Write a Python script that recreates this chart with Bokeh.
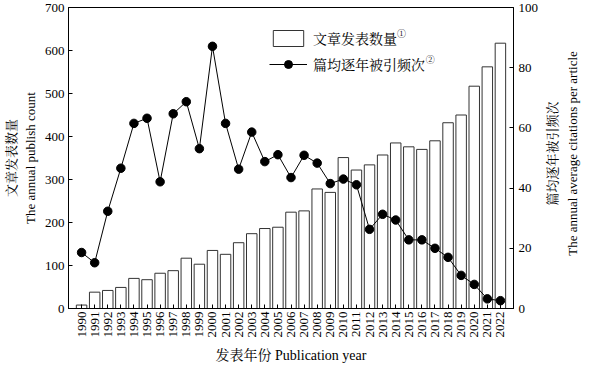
from bokeh.plotting import figure
from bokeh.models import Range1d, LinearAxis, FixedTicker, Legend, LegendItem, Label
from bokeh.layouts import row
from bokeh.embed import file_html
from bokeh.resources import INLINE
import math

years = list(range(1990, 2023))
publish_count = [8, 38, 42, 49, 70, 67, 82, 88, 117, 103, 135, 126, 153, 174, 186, 189,
                 224, 227, 278, 270, 351, 322, 334, 357, 385, 376, 370, 390, 432, 450,
                 517, 562, 617]
citations = [18.6, 15.2, 32.3, 46.6, 61.5, 63.2, 42.1, 64.7, 68.7, 53.1, 87.1, 61.5,
             46.3, 58.6, 48.8, 51.1, 43.5, 50.9, 48.3, 41.5, 43.0, 41.1, 26.3, 31.3,
             29.4, 22.8, 22.8, 20.0, 17.0, 11.0, 8.0, 3.2, 2.6]
left_ticks = [0, 100, 200, 300, 400, 500, 600, 700]
right_ticks = [0, 20, 40, 60, 80, 100]
right_title = "篇均逐年被引频次\nThe annual average citations per article"

SERIF = "Liberation Serif, Noto Serif CJK SC, Noto Sans CJK SC"

p = figure(output_backend="svg", toolbar_location=None,
           frame_width=445, frame_height=301,
           min_border_left=61, min_border_right=28, min_border_top=7, min_border_bottom=48,
           x_range=Range1d(1989, 2023), y_range=Range1d(0, 700))
p.extra_y_ranges = {"cit": Range1d(0, 100)}
p.outline_line_color = "black"
p.outline_line_width = 1
p.xgrid.visible = False
p.ygrid.visible = False
p.background_fill_color = "white"
p.border_fill_color = "white"

bars = p.vbar(x=years, top=publish_count, width=0.8, fill_color="white",
              line_color="#333333", line_width=1)
ln = p.line(x=years, y=citations, y_range_name="cit", line_color="black", line_width=1)
pts = p.scatter(x=years, y=citations, y_range_name="cit", size=8.5, marker="circle",
                fill_color="black", line_color="black")

right = LinearAxis(y_range_name="cit")
p.add_layout(right, "right")


def style_axis(ax):
    ax.major_tick_in = 4
    ax.major_tick_out = 0
    ax.minor_tick_line_color = None
    ax.axis_line_color = "black"
    ax.major_tick_line_color = "black"
    ax.major_label_text_font = SERIF
    ax.major_label_text_font_size = "13px"
    ax.major_label_text_color = "black"
    ax.axis_label_text_font = SERIF
    ax.axis_label_text_font_size = "13px"
    ax.axis_label_text_font_style = "normal"
    ax.axis_label_text_color = "black"
    ax.axis_label_text_line_height = 1.3


for ax in [p.xaxis[0], p.yaxis[0], right]:
    style_axis(ax)

p.xaxis[0].ticker = FixedTicker(ticks=years)
p.xaxis[0].major_label_orientation = math.pi / 2
p.xaxis[0].major_label_standoff = 3
p.xaxis[0].axis_label = "发表年份 Publication year"
p.xaxis[0].axis_label_text_font_size = "14px"
p.xaxis[0].axis_label_standoff = 7

p.yaxis[0].ticker = FixedTicker(ticks=left_ticks)
p.yaxis[0].major_label_standoff = 4
p.yaxis[0].axis_label = "文章发表数量\nThe annual publish count"
p.yaxis[0].axis_label_standoff = 4

right.ticker = FixedTicker(ticks=right_ticks)
right.major_label_standoff = 5

legend = Legend(items=[LegendItem(label="文章发表数量", renderers=[bars]),
                       LegendItem(label="篇均逐年被引频次", renderers=[ln, pts])],
                location=(201, 234), glyph_width=38, glyph_height=20, spacing=6,
                padding=0, margin=0, label_standoff=6, border_line_color=None,
                background_fill_alpha=0, label_text_font=SERIF,
                label_text_font_size="14px", label_text_color="black")
p.add_layout(legend, "center")

sup_x = [2014.1, 2016.3]
sup_y = [650, 590]
for sx, sy, t in zip(sup_x, sup_y, ["①", "②"]):
    p.add_layout(Label(x=sx, y=sy, text=t, text_font=SERIF, text_font_size="9px",
                       text_baseline="top", text_color="black"))

# side panel: an empty left axis whose title reads bottom-to-top like the reference
side = figure(output_backend="svg", toolbar_location=None, width=46, height=356,
              min_border_left=0, min_border_right=0, min_border_top=7, min_border_bottom=48,
              x_range=Range1d(0, 1), y_range=Range1d(0, 100))
side.xaxis.visible = False
side.grid.visible = False
side.outline_line_color = None
side.background_fill_color = "white"
side.border_fill_color = "white"
sax = side.yaxis[0]
style_axis(sax)
sax.ticker = FixedTicker(ticks=[])
sax.axis_line_color = None
sax.major_tick_line_color = None
sax.major_tick_in = 0
sax.major_label_standoff = 0
sax.axis_label = right_title
sax.axis_label_standoff = 0

open("out.html", "w").write(file_html(row(p, side), INLINE))
